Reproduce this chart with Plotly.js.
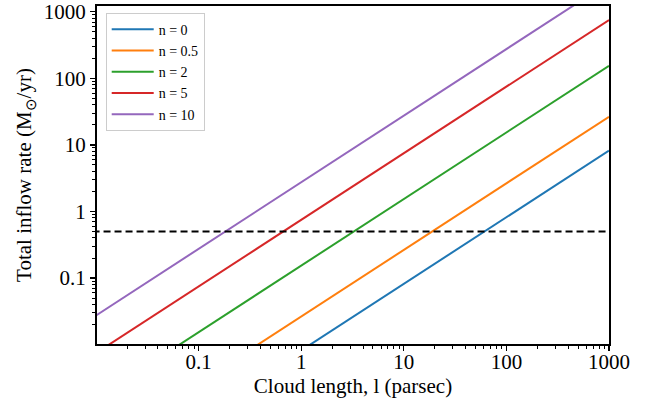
<!DOCTYPE html>
<html>
<head>
<meta charset="utf-8">
<script src="https://cdn.plot.ly/plotly-3.0.1.min.js"></script>
<style>html,body{margin:0;padding:0;background:#fff;}#chart{width:656px;height:408px;}</style>
</head>
<body>
<div id="chart"></div>
<script>
// Cloud length l (parsec)
const cloudLength = [0.01, 0.1, 1, 10, 100, 1000];
// Total inflow rate (Msun/yr)
const rate_n0   = [0.000082, 0.00082, 0.0082, 0.082, 0.82, 8.2];
const rate_n05  = [0.000265, 0.00265, 0.0265, 0.265, 2.65, 26.5];
const rate_n2   = [0.00154, 0.0154, 0.154, 1.54, 15.4, 154];
const rate_n5   = [0.0075, 0.075, 0.75, 7.5, 75, 750];
const rate_n10  = [0.0275, 0.275, 2.75, 27.5, 275, 2750];
const seriesNames = ["n = 0", "n = 0.5", "n = 2", "n = 5", "n = 10"];
const thresholdRate = 0.5;
const thresholdX = [0.001, 10000];

const xTickVals = [0.1, 1, 10, 100, 1000];
const xTickText = ["0.1", "1", "10", "100", "1000"];
const yTickVals = [0.1, 1, 10, 100, 1000];
const yTickText = ["0.1", "1", "10", "100", "1000"];

const colors = ["#1f77b4", "#ff7f0e", "#2ca02c", "#d62728", "#9467bd"];
const allRates = [rate_n0, rate_n05, rate_n2, rate_n5, rate_n10];

const minorVals = [];
for (let e = -3; e <= 4; e++) {
  for (let m = 2; m <= 9; m++) minorVals.push(m * Math.pow(10, e));
}

const traces = allRates.map((r, i) => ({
  x: cloudLength, y: r, type: "scatter", mode: "lines",
  name: seriesNames[i], line: {color: colors[i], width: 2}
}));
traces.push({
  x: thresholdX, y: [thresholdRate, thresholdRate], type: "scatter", mode: "lines",
  showlegend: false, line: {color: "black", width: 2, dash: "7px,4px"}
});

const font = {family: "Liberation Serif, Times New Roman, serif", color: "black"};
const axisCommon = {
  type: "log", showgrid: false, zeroline: false,
  showline: true, linecolor: "black", linewidth: 2, mirror: true,
  ticks: "outside", ticklen: 5, tickwidth: 1.2, tickcolor: "black",
  tickmode: "array",
  tickfont: Object.assign({size: 21}, font),
  minor: {ticks: "outside", ticklen: 3, tickwidth: 1, tickcolor: "black", tickmode: "array", tickvals: minorVals, showgrid: false}
};

const layout = {
  width: 656, height: 408,
  margin: {l: 97, r: 47, t: 6, b: 64},
  paper_bgcolor: "white", plot_bgcolor: "white",
  font: font,
  showlegend: true,
  legend: {
    x: 0.017, y: 0.98, xanchor: "left", yanchor: "top",
    bgcolor: "rgba(255,255,255,0.9)", bordercolor: "#cccccc", borderwidth: 1,
    font: Object.assign({size: 14}, font),
    itemwidth: 42,
    tracegroupgap: 0
  },
  xaxis: Object.assign({}, axisCommon, {
    range: [Math.log10(0.0102), 3],
    tickvals: xTickVals, ticktext: xTickText,
    ticklabelstandoff: -7,
    title: {text: "Cloud length, l (parsec)", font: Object.assign({size: 21}, font), standoff: 4}
  }),
  yaxis: Object.assign({}, axisCommon, {
    range: [-1.990, 3.086],
    tickvals: yTickVals, ticktext: yTickText,
    ticklabelstandoff: 0,
    title: {text: "Total inflow rate (M<sub>⊙</sub>/yr)", font: Object.assign({size: 21}, font), standoff: 6}
  })
};

Plotly.newPlot("chart", traces, layout, {displayModeBar: false, staticPlot: true});
</script>
</body>
</html>
